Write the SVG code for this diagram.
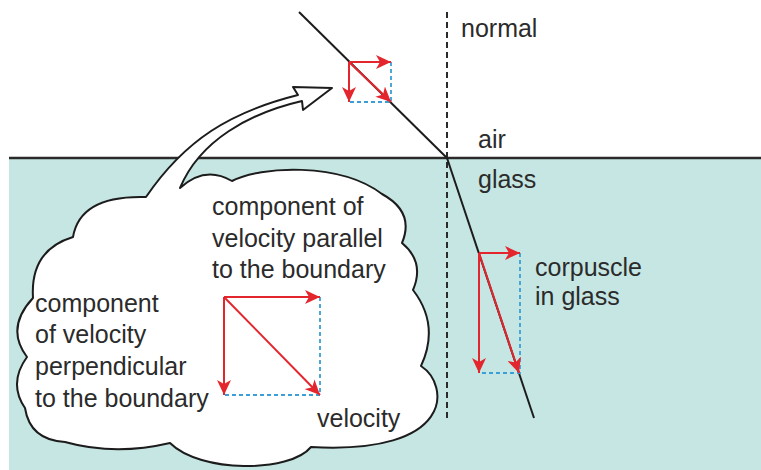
<svg xmlns="http://www.w3.org/2000/svg" width="761" height="470" viewBox="0 0 761 470">
  <style>
    .txt { font-family: "Liberation Sans", Arial, sans-serif; font-size: 25px; fill: #2b2b2b; }
    .ray { stroke: #1c1c1c; stroke-width: 2; fill: none; }
    .vec { stroke: #e3262e; stroke-width: 2; fill: none; marker-end: url(#redhead); }
    .dash { stroke: #3a9fd6; stroke-width: 1.8; stroke-dasharray: 4 3; fill: none; }
  </style>
  <defs>
    <marker id="redhead" markerUnits="userSpaceOnUse" markerWidth="16" markerHeight="14" viewBox="0 0 16 14" refX="15" refY="7" orient="auto">
      <path d="M0,0 L15,7 L0,14 L4,7 Z" fill="#e3262e"/>
    </marker>
  </defs>

  <rect width="761" height="470" fill="#ffffff"/>

  <g id="glass">
    <rect x="9" y="158" width="752" height="312" fill="#c6e6e3"/>
    <line x1="9" y1="158" x2="761" y2="158" stroke="#2a2a2a" stroke-width="2.5"/>
  </g>

  <g id="connectors">
    <line id="normal-line" x1="447" y1="12" x2="447" y2="418" stroke="#2a2a2a" stroke-width="2" stroke-dasharray="6 4"/>
    <line id="incident-ray" class="ray" x1="299" y1="12" x2="447" y2="158"/>
    <line id="refracted-ray" class="ray" x1="447" y1="158" x2="534" y2="418"/>
  </g>

  <g id="air-vectors">
    <path class="dash" d="M391,62 L391,102 L349,102"/>
    <line class="vec" x1="349" y1="62" x2="391" y2="62"/>
    <line class="vec" x1="349" y1="62" x2="349" y2="102"/>
    <line class="vec" x1="349" y1="62" x2="391" y2="102"/>
  </g>

  <g id="glass-vectors">
    <path class="dash" d="M520,253 L520,373 L479,373"/>
    <line class="vec" x1="479" y1="253" x2="520" y2="253"/>
    <line class="vec" x1="479" y1="253" x2="479" y2="373"/>
    <line class="vec" x1="479" y1="253" x2="519" y2="373"/>
  </g>

  <g id="cloud">
    <path d="M180,188 Q205,165 232,181 C260,166 340,162 382,194 Q415,212 402,243 Q425,262 413,290 Q440,325 421,366 C450,385 455,455 311,447 C290,473 200,473 170,443 Q115,456 65,442 Q30,440 25,408 Q8,383 27,357 Q5,328 33,298 Q30,250 73,237 Q80,195 146,197 C185,140 230,112 298,95 L293,87 L332,88 L303,110 L302,101 C250,113 200,140 180,188 Z" fill="#ffffff" stroke="#1c1c1c" stroke-width="2" stroke-linejoin="round"/>
    <path class="dash" d="M320,297 L320,395 L224,395"/>
    <line class="vec" x1="224" y1="297" x2="320" y2="297"/>
    <line class="vec" x1="224" y1="297" x2="224" y2="395"/>
    <line class="vec" x1="224" y1="297" x2="320" y2="395"/>
  </g>

  <g id="labels">
    <text class="txt" x="461" y="37">normal</text>
    <text class="txt" x="478" y="148">air</text>
    <text class="txt" x="478" y="188">glass</text>
    <text class="txt" x="535" y="276">corpuscle</text>
    <text class="txt" x="535" y="305">in glass</text>
    <text class="txt" x="212" y="215">component of</text>
    <text class="txt" x="212" y="247">velocity parallel</text>
    <text class="txt" x="212" y="278">to the boundary</text>
    <text class="txt" x="35" y="312">component</text>
    <text class="txt" x="35" y="343">of velocity</text>
    <text class="txt" x="35" y="375">perpendicular</text>
    <text class="txt" x="35" y="407">to the boundary</text>
    <text class="txt" x="317" y="427">velocity</text>
  </g>
</svg>
